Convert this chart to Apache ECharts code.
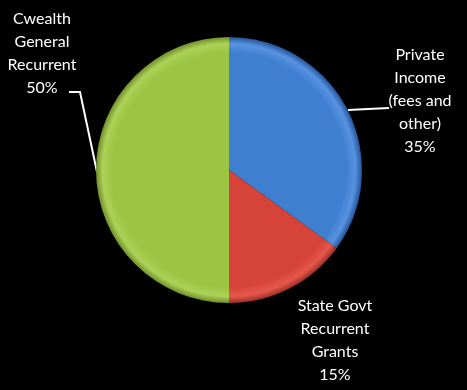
<!DOCTYPE html>
<html lang="en">
<head>
  <meta charset="UTF-8">
  <title>Funding sources</title>
</head>
<body>
<div id="chart"></div>
<style>
  html, body {
    margin: 0;
    width: 100%;
    height: 100%;
    background: #000;
  }
  #chart {
    width: 467px;
    height: 390px;
  }
</style>
<script src="https://cdn.jsdelivr.net/npm/echarts@6/dist/echarts.min.js"></script>
<script>
  // slices, clockwise from 12 o'clock
  const names = ['Private\nIncome\n(fees and\nother)', 'State Govt\nRecurrent\nGrants', 'Cwealth\nGeneral\nRecurrent'];
  const values = [35, 15, 50];
  const colors = [
    ['#5892e0', '#3f7fd0', '#24549a'],
    ['#e6584c', '#d64339', '#9e2e26'],
    ['#acd256', '#9bc542', '#708f2c']
  ];
  // where each label sits (centre of the text block)
  const labelPos = [[420, 101], [335, 340], [42, 53]];
  const cx = 229, cy = 170, R = 133;

  function shade(c) {
    // one gradient for the whole disc, so every slice gets the same rim
    return new echarts.graphic.RadialGradient(cx, cy, R, [
      { offset: 0, color: c[1] },
      { offset: 0.88, color: c[1] },
      { offset: 0.95, color: c[0] },
      { offset: 1, color: c[2] }
    ], true);
  }

  const chart = echarts.init(document.getElementById('chart'));
  chart.setOption({
    backgroundColor: '#000',
    animation: false,
    series: [{
      type: 'pie',
      center: [cx, cy],
      radius: R,
      startAngle: 90,
      clockwise: true,
      label: {
        formatter: '{b}\n{d}%',
        color: '#fff',
        fontFamily: 'Lato',
        fontSize: 16,
        lineHeight: 23,
        align: 'center',
        overflow: 'none',
        width: 120
      },
      labelLine: {
        show: true,
        lineStyle: { color: '#fff', width: 2 }
      },
      labelLayout: function (p) {
        const pos = labelPos[p.dataIndex];
        const i = p.dataIndex;
        // leader lines as in the original: from the rim to the text
        const lines = {
          0: [[348, 110], [368, 109], [389, 108]],
          2: [[97, 172], [80, 92], [69, 92]]
        };
        const out = {
          x: pos[0],
          y: pos[1],
          align: 'center',
          verticalAlign: 'middle'
        };
        if (lines[i]) out.labelLinePoints = lines[i];
        return out;
      },
      data: values.map((v, i) => ({
        name: names[i],
        value: v,
        itemStyle: { color: shade(colors[i]) },
        labelLine: { show: i !== 1 }
      }))
    }]
  });
</script>
</body>
</html>
